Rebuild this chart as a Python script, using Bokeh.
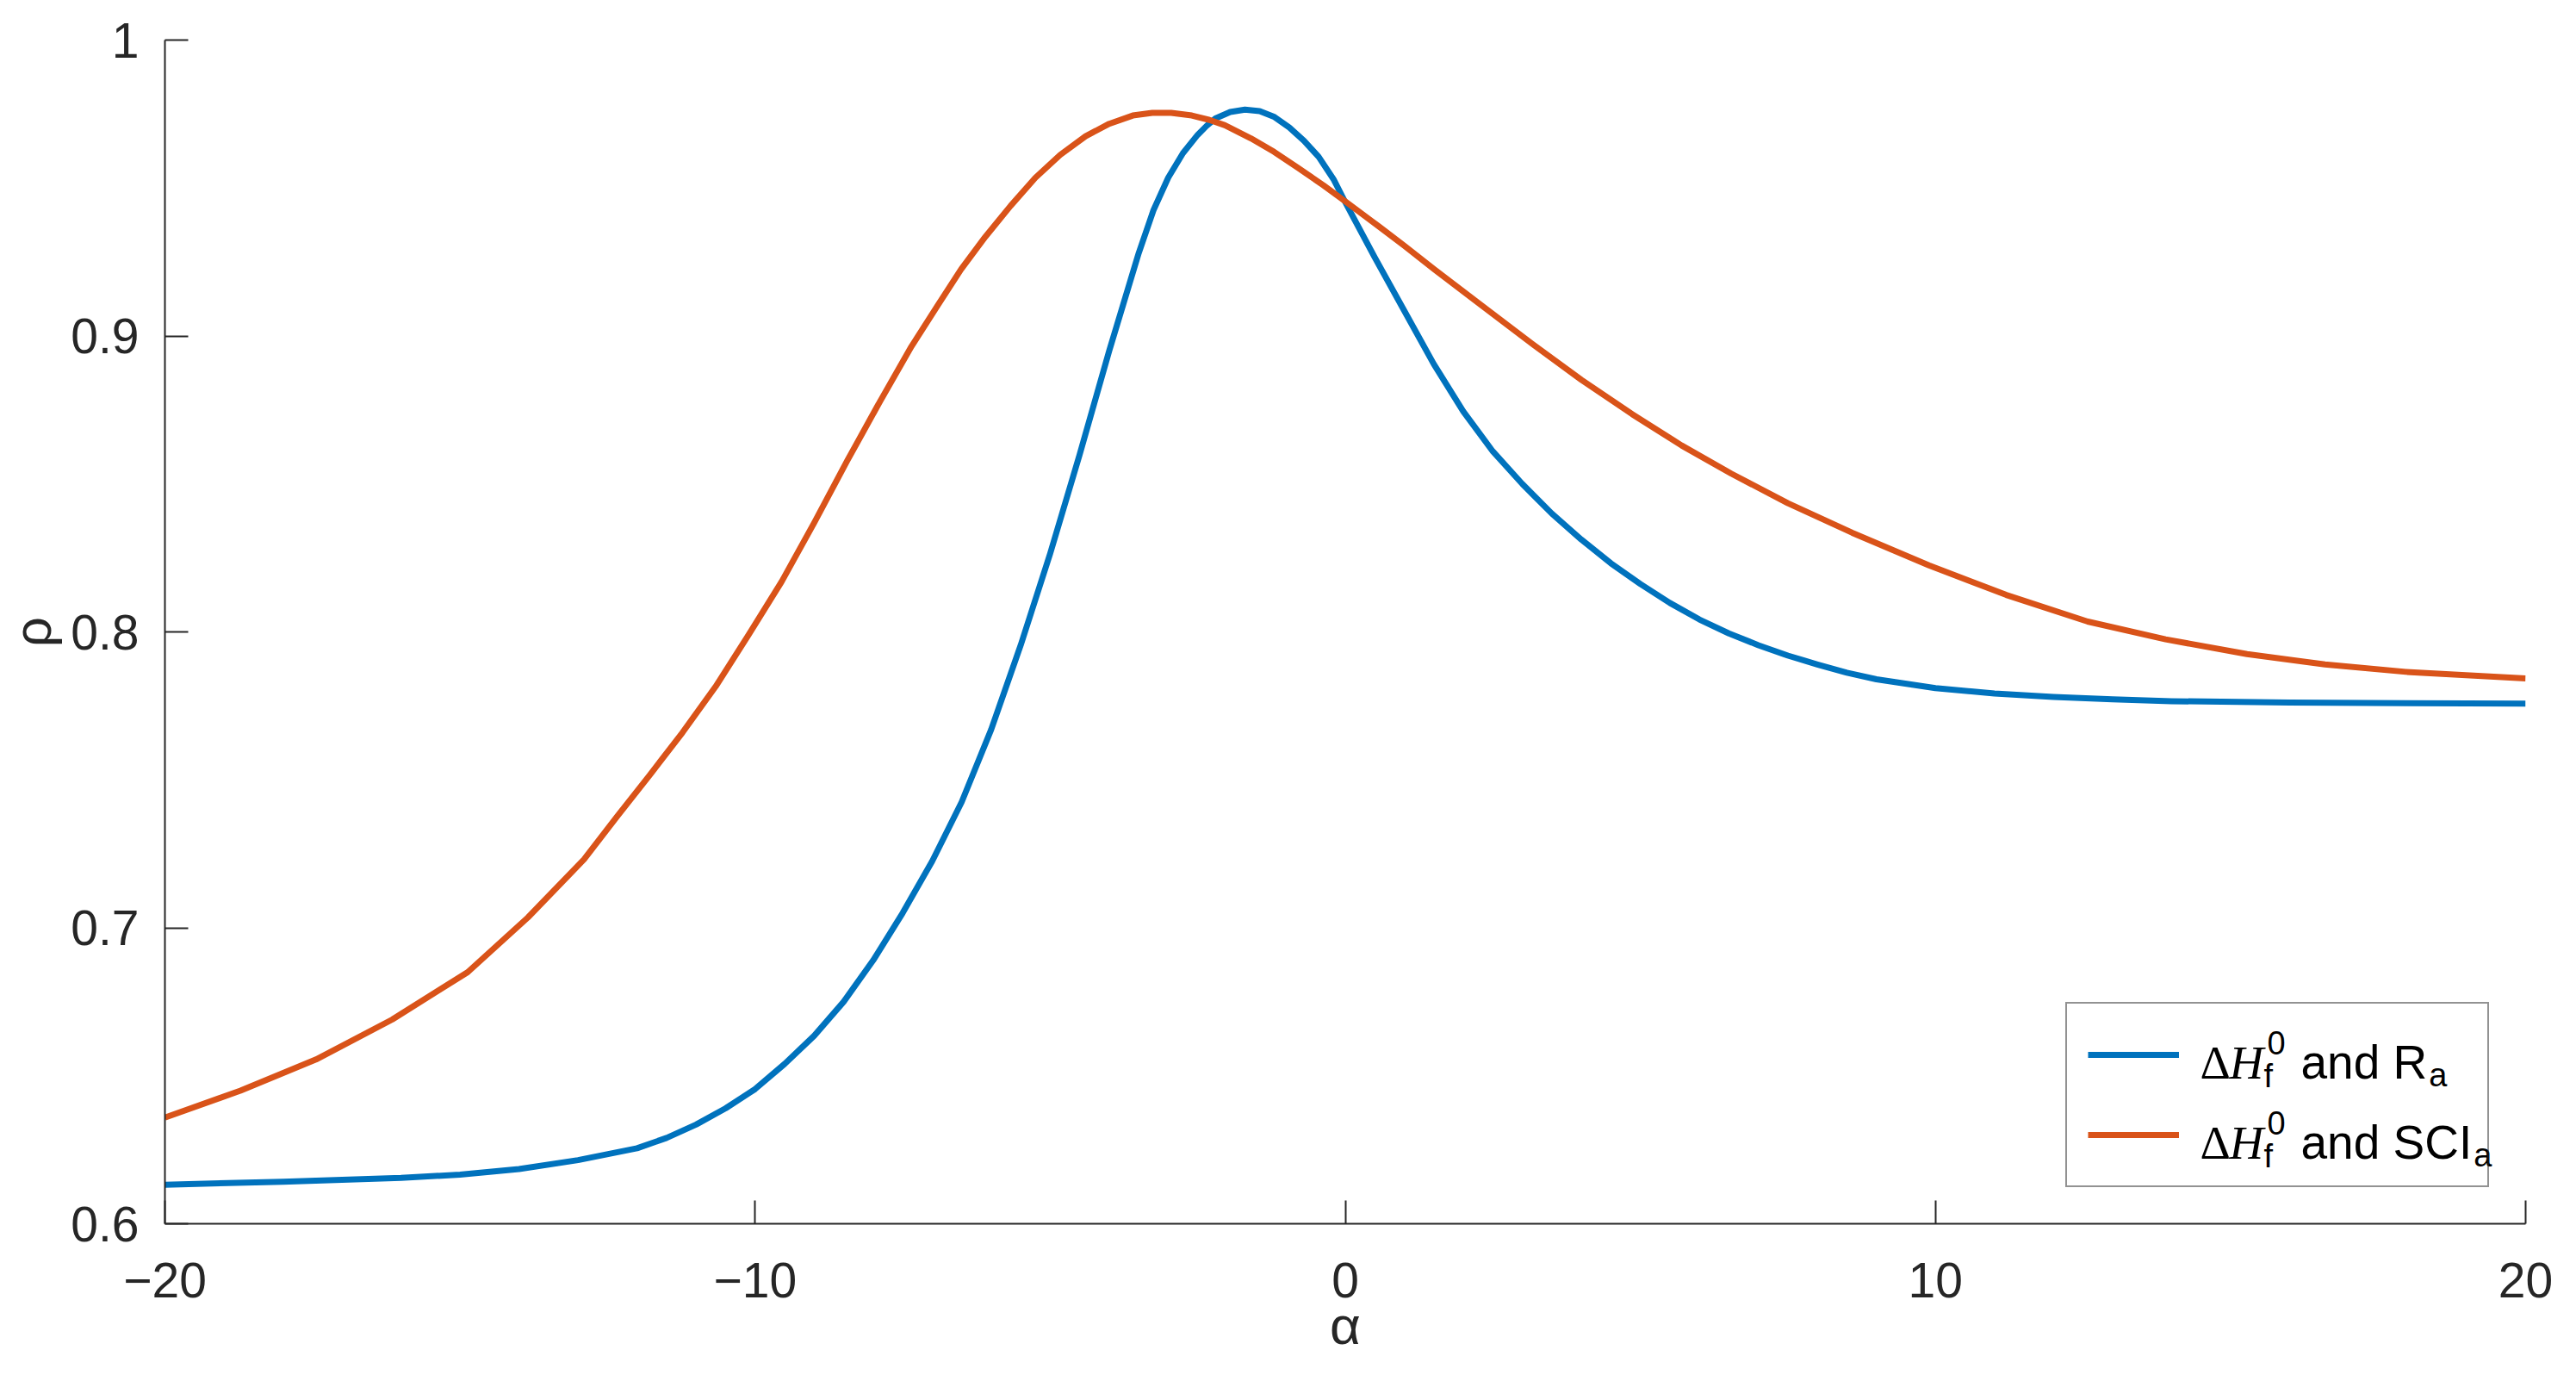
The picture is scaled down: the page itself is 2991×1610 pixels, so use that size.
from bokeh.plotting import figure
from bokeh.models import Range1d, FixedTicker, Legend, LegendItem, Label
from bokeh.embed import file_html
from bokeh.resources import INLINE

# ---------------- data ----------------
ALPHA_RA = [-20, -18, -16, -15, -14, -13, -12, -11.5, -11, -10.5, -10, -9.5, -9,
            -8.5, -8, -7.5, -7, -6.5, -6, -5.5, -5, -4.5, -4, -3.5, -3.25, -3,
            -2.75, -2.5, -2.35, -2.2, -1.95, -1.7, -1.45, -1.2, -0.95, -0.7, -0.45,
            -0.2, 0, 0.5, 1.0, 1.5, 2.0, 2.5, 3.0, 3.5, 4.0, 4.5, 5.0, 5.5, 6.0,
            6.5, 7.0, 7.5, 8.0, 8.5, 9.0, 10, 11, 12, 13, 14, 16, 18, 20]
RHO_RA = [0.6132, 0.6142, 0.6155, 0.6166, 0.6185, 0.6215, 0.6255, 0.6290, 0.6335,
          0.6390, 0.6455, 0.6540, 0.6635, 0.6750, 0.6890, 0.7050, 0.7225, 0.7425,
          0.7670, 0.7955, 0.8265, 0.8600, 0.8950, 0.9280, 0.9425, 0.9535, 0.9618,
          0.9680, 0.9710, 0.9735, 0.9757, 0.9765, 0.9760, 0.9740, 0.9705, 0.9660,
          0.9605, 0.9530, 0.9452, 0.9265, 0.9085, 0.8905, 0.8745, 0.8610, 0.8500,
          0.8400, 0.8312, 0.8232, 0.8162, 0.8098, 0.8042, 0.7995, 0.7955, 0.7920,
          0.7890, 0.7862, 0.7840, 0.7810, 0.7792, 0.7780, 0.7772, 0.7766, 0.7761,
          0.7759, 0.7758]

ALPHA_SCI = [-20, -18.72, -17.44, -16.15, -14.87, -13.85, -12.9, -12.34, -11.79,
             -11.23, -10.67, -10.11, -9.55, -8.995, -8.44, -7.88, -7.35, -6.9,
             -6.51, -6.1, -5.67, -5.25, -4.83, -4.4, -4.0, -3.6, -3.27, -2.95,
             -2.6, -2.3, -2.04, -1.6, -1.205, -0.8, -0.37, 0, 0.57, 1.0, 1.51,
             2.3, 3.19, 4.0, 4.86, 5.7, 6.54, 7.5, 8.59, 9.89, 11.2, 12.58, 13.9,
             15.28, 16.6, 17.97, 20]
RHO_SCI = [0.6359, 0.6450, 0.6555, 0.6690, 0.6850, 0.7035, 0.7231, 0.7376, 0.7515,
           0.7660, 0.7815, 0.7990, 0.8170, 0.8370, 0.8578, 0.8780, 0.8965, 0.9105,
           0.9225, 0.9335, 0.9440, 0.9535, 0.9612, 0.9675, 0.9717, 0.9745, 0.9754,
           0.9754, 0.9745, 0.9730, 0.9712, 0.9668, 0.9622, 0.9568, 0.9509, 0.9455,
           0.9370, 0.9305, 0.9225, 0.9105, 0.8970, 0.8852, 0.8736, 0.8630, 0.8535,
           0.8435, 0.8335, 0.8225, 0.8125, 0.8035, 0.7975, 0.7925, 0.7890, 0.7865,
           0.7843]

X_TICKS = [-20, -10, 0, 10, 20]
X_TICK_LABELS = ["\u221220", "\u221210", "0", "10", "20"]
Y_TICKS = [0.6, 0.7, 0.8, 0.9, 1.0]
Y_TICK_LABELS = ["0.6", "0.7", "0.8", "0.9", "1"]
X_LABEL = "\u03b1"
Y_LABEL = "\u03c1"

# legend text pieces: (text, role)
LEGEND_1 = [("\u0394", "delta"), ("H", "H"), ("0", "sup"), ("f", "sub"), ("and R", "body"), ("a", "suba")]
LEGEND_2 = [("\u0394", "delta"), ("H", "H"), ("0", "sup"), ("f", "sub"), ("and SCI", "body"), ("a", "suba")]

BLUE = "#0072BD"
ORANGE = "#D95319"
AX = "#262626"

p = figure(width=2991, height=1610, output_backend="svg", toolbar_location=None,
           x_range=Range1d(-20, 20), y_range=Range1d(0.6, 1.0),
           min_border_left=190, min_border_right=59, min_border_top=46, min_border_bottom=190)
p.outline_line_color = None
p.grid.visible = False
p.background_fill_color = "white"
p.border_fill_color = "white"

r1 = p.line(ALPHA_RA, RHO_RA, line_color=BLUE, line_width=7, line_join="round")
r2 = p.line(ALPHA_SCI, RHO_SCI, line_color=ORANGE, line_width=7, line_join="round")

for ax, ticks, labs in ((p.xaxis, X_TICKS, X_TICK_LABELS), (p.yaxis, Y_TICKS, Y_TICK_LABELS)):
    ax.ticker = FixedTicker(ticks=ticks)
    ax.major_label_overrides = {t: l for t, l in zip(ticks, labs)}
    ax.axis_line_color = AX
    ax.axis_line_width = 2
    ax.major_tick_in = 27
    ax.major_tick_out = 0
    ax.major_tick_line_color = AX
    ax.major_tick_line_width = 2
    ax.minor_tick_line_color = None
    ax.major_label_text_font = "Liberation Sans"
    ax.major_label_text_font_size = "57px"
    ax.major_label_text_color = AX
    ax.axis_label_text_font = "Liberation Sans"
    ax.axis_label_text_font_size = "62px"
    ax.axis_label_text_font_style = "normal"
    ax.axis_label_text_color = AX

p.xaxis.axis_label = X_LABEL
p.yaxis.axis_label = Y_LABEL
p.xaxis.major_label_standoff = 45
p.yaxis.major_label_standoff = 30
p.xaxis.axis_label_standoff = -5
p.yaxis.axis_label_standoff = 7

legend = Legend(items=[LegendItem(label=" ", renderers=[r1]),
                       LegendItem(label=" ", renderers=[r2])],
                location="bottom_right", margin=42, padding=24, spacing=23,
                glyph_width=106, glyph_height=70, label_height=70, label_width=313,
                label_standoff=21, border_line_color=AX, border_line_width=2,
                background_fill_alpha=0.0)
p.add_layout(legend)

# legend texts, positioned in screen units relative to the frame's bottom-left
BODY = 55
SMALL = 38
ADV = {"and R": 2.668, "and SCI": 3.613}
MID_SANS = 0.3465   # (ascent - descent) / 2 for Liberation Sans
MID_SERIF = 0.3375  # same for Liberation Serif


def put(x, baseline, text, size, font="Liberation Sans", style="normal"):
    mid = MID_SERIF if "Serif" in font else MID_SANS
    lab = Label(x=x, y=baseline + mid * size, x_units="screen", y_units="screen", text=text,
                text_font=font, text_font_size=f"{size}px", text_font_style=style,
                text_color="black", text_baseline="middle", text_align="left")
    p.add_layout(lab)


for pieces, base in ((LEGEND_1, 168), (LEGEND_2, 75)):
    body_txt = ""
    for txt, role in pieces:
        if role == "delta":
            put(2363, base, txt, BODY, font="Liberation Serif")
        elif role == "H":
            put(2397, base, txt, BODY, font="Liberation Serif", style="italic")
        elif role == "sup":
            put(2441, base + 29, txt, SMALL)
        elif role == "sub":
            put(2437, base - 10, txt, SMALL)
        elif role == "body":
            body_txt = txt
            put(2480, base, txt, BODY)
        elif role == "suba":
            put(2480 + ADV[body_txt] * BODY + 2, base - 9, txt, SMALL)

open("out.html", "w").write(file_html(p, INLINE))
